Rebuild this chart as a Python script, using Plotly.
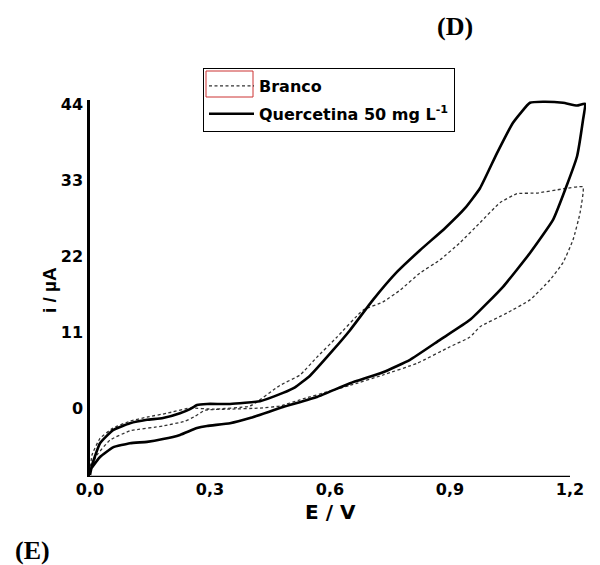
import plotly.graph_objects as go

# Quercetina 50 mg L-1 (solid) — closed voltammogram loop
quer_E = [0, 0.005, 0.025, 0.0575, 0.10, 0.1425, 0.1825, 0.225, 0.25, 0.2675, 0.2925, 0.35, 0.425,
          0.4825, 0.5125, 0.55, 0.6075, 0.65, 0.7075, 0.7675, 0.825, 0.8875, 0.9375, 0.975,
          1.0175, 1.0575, 1.10,
          1.1325, 1.1825, 1.2175, 1.2375,
          1.2325, 1.2175, 1.1925, 1.1575, 1.10, 1.0325, 0.95, 0.875, 0.80, 0.7325, 0.65, 0.5675,
          0.4825, 0.40, 0.35, 0.2925, 0.2675, 0.225, 0.1825, 0.1425, 0.10, 0.0575, 0.025, 0]
quer_I = [-9.7, -8.3, -5.1, -3.2, -2.2, -1.7, -1.45, -0.75, -0.15, 0.45, 0.6, 0.6, 1.0,
          2.2, 3.0, 4.7, 8.4, 11.3, 15.7, 19.75, 22.9, 26.1, 29.0, 31.9,
          37.0, 41.4, 44.3,
          44.45, 44.3, 43.9, 44.15,
          41.8, 36.5, 32.4, 27.3, 22.5, 17.6, 12.8, 9.9, 7.0, 5.2, 3.6, 1.6,
          0.15, -1.45, -2.2, -2.6, -2.9, -3.9, -4.5, -4.9, -5.1, -5.7, -7.1, -9.0]

# Branco (dotted) — closed voltammogram loop
branco_E = [0, 0.005, 0.025, 0.0575, 0.10, 0.1425, 0.1925, 0.25, 0.3075, 0.40, 0.475, 0.525,
            0.5675, 0.6175, 0.6825, 0.7325, 0.775, 0.825, 0.875, 0.925, 0.975, 1.025, 1.0675,
            1.1175, 1.1825, 1.2325,
            1.225, 1.2075, 1.1825, 1.15, 1.10, 1.0425, 0.975, 0.95, 0.90, 0.8175, 0.7325, 0.65,
            0.6075, 0.525, 0.475, 0.425, 0.35, 0.2875, 0.2625, 0.2375, 0.1825, 0.10, 0.05,
            0.0175, 0]
branco_I = [-9.3, -6.8, -4.4, -2.9, -1.9, -1.3, -0.75, 0.0, -0.15, 0.3, 3.3, 4.8,
            7.4, 10.3, 14.2, 15.4, 17.1, 19.6, 21.5, 24.0, 26.9, 29.8, 31.1,
            31.2, 31.8, 32.1,
            28.3, 24.4, 21.1, 18.6, 15.7, 13.8, 11.8, 10.3, 8.9, 6.5, 4.8, 3.3,
            2.6, 1.2, 0.3, 0.0, -0.15, -0.3, -1.2, -1.9, -2.6, -3.3, -4.65,
            -6.8, -9.0]

x_tickvals = [0, 0.3, 0.6, 0.9, 1.2]
x_ticktext = ["0,0", "0,3", "0,6", "0,9", "1,2"]
y_tickvals = [0, 11, 22, 33, 44]
y_ticktext = ["0", "11", "22", "33", "44"]

wide = "DejaVu Sans, Liberation Sans, Arial, sans-serif"
arial = "Liberation Sans, Arial, sans-serif"
serif = "Liberation Serif, Times New Roman, serif"

fig = go.Figure()
fig.add_trace(go.Scatter(x=branco_E, y=branco_I, mode="lines", name="<b>Branco</b>",
                         line=dict(color="#333333", width=1.3, dash="3px,2.5px",
                                   shape="spline", smoothing=0.4),
                         legendgroup="a"))
fig.add_trace(go.Scatter(x=quer_E, y=quer_I, mode="lines",
                         name="<b>Quercetina 50 mg L<sup>-1</sup></b>",
                         line=dict(color="black", width=2.6, shape="spline", smoothing=0.4),
                         legendgroup="b"))

# page has an 8px body margin; figure is sized so that the plot area sits at
# x 90..586, y 100..477 in the 600x565 window
fig.update_layout(
    width=592, height=557,
    margin=dict(l=82, r=14, t=92, b=88),
    plot_bgcolor="white", paper_bgcolor="white",
    font=dict(family=wide, color="black", size=16),
    showlegend=True,
    legend=dict(x=(203 - 90) / 496, y=(477 - 68) / 377, xanchor="left", yanchor="top",
                bordercolor="black", borderwidth=1, bgcolor="rgba(0,0,0,0)",
                font=dict(size=16, family=wide),
                itemwidth=45,
                traceorder="grouped", tracegroupgap=4),
    xaxis=dict(range=[0, 1.24], showgrid=False, zeroline=False, showline=False,
               tickvals=x_tickvals, ticktext=[f"<b>{t}</b>" for t in x_ticktext],
               ticks="", tickfont=dict(size=16, family=wide), ticklabelstandoff=1),
    yaxis=dict(range=[-10, 44.7], showgrid=False, zeroline=False, showline=True,
               linecolor="black", linewidth=2.5,
               tickvals=y_tickvals, ticktext=[f"<b>{t}</b>" for t in y_ticktext],
               ticks="", tickfont=dict(size=16, family=wide), ticklabelstandoff=1),
)

# x axis line from 0 to 1.2 only
fig.add_shape(type="line", xref="x", yref="y", x0=0, x1=1.2, y0=-10, y1=-10,
              line=dict(color="black", width=2.5))
# red box around Branco legend symbol
fig.add_shape(type="rect", xref="paper", yref="paper",
              x0=(206 - 90) / 496, x1=(253 - 90) / 496, y0=(477 - 97) / 377, y1=(477 - 71) / 377,
              line=dict(color="#cc3333", width=1))

fig.add_annotation(text="<b>E / V</b>", xref="paper", yref="paper", x=(330 - 90) / 496, y=(477 - 512) / 377,
                   showarrow=False, font=dict(size=20, family=wide), xanchor="center", yanchor="middle")
fig.add_annotation(text="<b>i / µA</b>", xref="paper", yref="paper", x=(49 - 90) / 496, y=(477 - 290) / 377,
                   showarrow=False, font=dict(size=19, family=arial), textangle=-90,
                   xanchor="center", yanchor="middle")
fig.add_annotation(text="<b>(D)</b>", xref="paper", yref="paper", x=(455 - 90) / 496, y=(477 - 27) / 377,
                   showarrow=False, font=dict(size=26, family=serif), xanchor="center", yanchor="middle")
fig.add_annotation(text="<b>(E)</b>", xref="paper", yref="paper", x=(32 - 90) / 496, y=(477 - 550) / 377,
                   showarrow=False, font=dict(size=26, family=serif), xanchor="center", yanchor="middle")

fig.write_html("out.html")
